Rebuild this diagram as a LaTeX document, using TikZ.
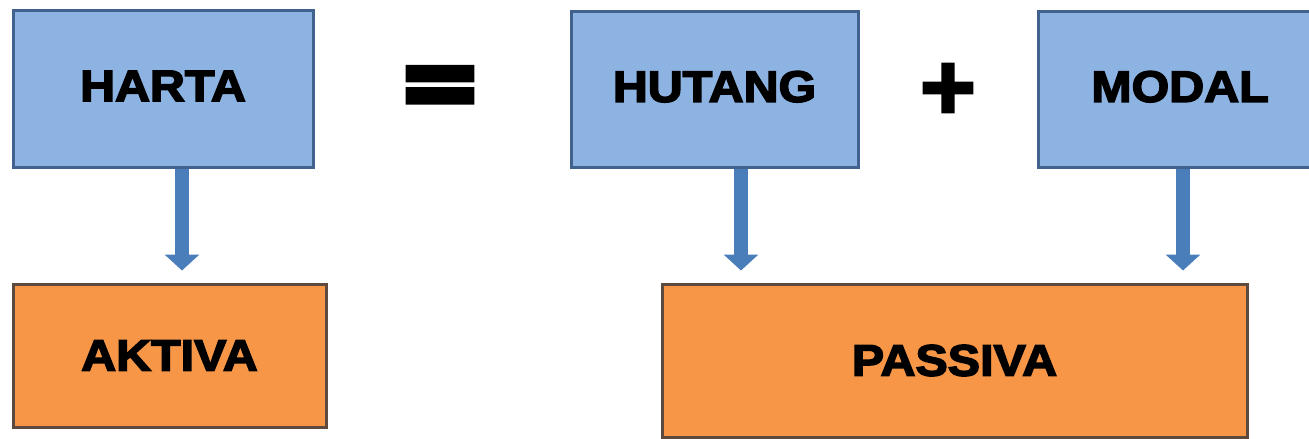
\documentclass[tikz,border=0pt]{standalone}
\usepackage{fontspec}
\usetikzlibrary{arrows.meta}
\newfontfamily\heavy{Liberation Sans Bold}[FakeBold=3.5, FakeStretch=1.1]
\newfontfamily\opfont{DejaVu Sans Bold}[FakeBold=6]
\definecolor{boxblue}{HTML}{8DB3E2}
\definecolor{edgeblue}{HTML}{41628F}
\definecolor{boxorange}{HTML}{F79646}
\definecolor{edgeorange}{HTML}{5C4A3E}
\definecolor{arrowblue}{HTML}{4A7EBB}
\tikzset{
  term/.style={draw=edgeblue, fill=boxblue, line width=3pt, inner sep=0pt,
    text depth=5pt, font=\heavy\fontsize{44}{44}\selectfont},
  side/.style={draw=edgeorange, fill=boxorange, line width=3pt, inner sep=0pt,
    font=\heavy\fontsize{44}{44}\selectfont},
  operator/.style={inner sep=0pt},
  link/.style={arrowblue, line width=14pt,
    -{Triangle[length=16pt, width=34pt]}, shorten >=12pt},
}
\begin{document}
\begin{tikzpicture}[x=1pt, y=-1pt]
  \useasboundingbox (0,0) rectangle (1309,439);
  \clip (0,0) rectangle (1309,439);
  % upper row: the equation
  \node[term, minimum width=300pt, minimum height=157pt] (harta) at (163,88.5) {HARTA};
  \node[operator, font=\opfont\fontsize{100}{100}\selectfont] (eq) at (440,92) {=};
  \node[term, minimum width=287pt, minimum height=156pt] (hutang) at (714.5,89) {HUTANG};
  \node[operator, font=\opfont\fontsize{74}{74}\selectfont] (plus) at (948,88) {+};
  \node[term, minimum width=284pt, minimum height=156pt] (modal) at (1180,89) {MODAL};
  % lower row: the two sides of the balance sheet
  \node[side, minimum width=313pt, minimum height=143pt] (aktiva) at (169.5,355.5) {AKTIVA};
  \node[side, minimum width=585pt, minimum height=153pt] (passiva) at (954.5,360.5) {PASSIVA};
  % arrows from each term to its side
  \draw[link] ([xshift=19pt]harta.south) -- ([xshift=19pt]harta.south |- aktiva.north);
  \draw[link] ([xshift=26.5pt]hutang.south) -- ([xshift=26.5pt]hutang.south |- passiva.north);
  \draw[link] ([xshift=3pt]modal.south) -- ([xshift=3pt]modal.south |- passiva.north);
\end{tikzpicture}
\end{document}
